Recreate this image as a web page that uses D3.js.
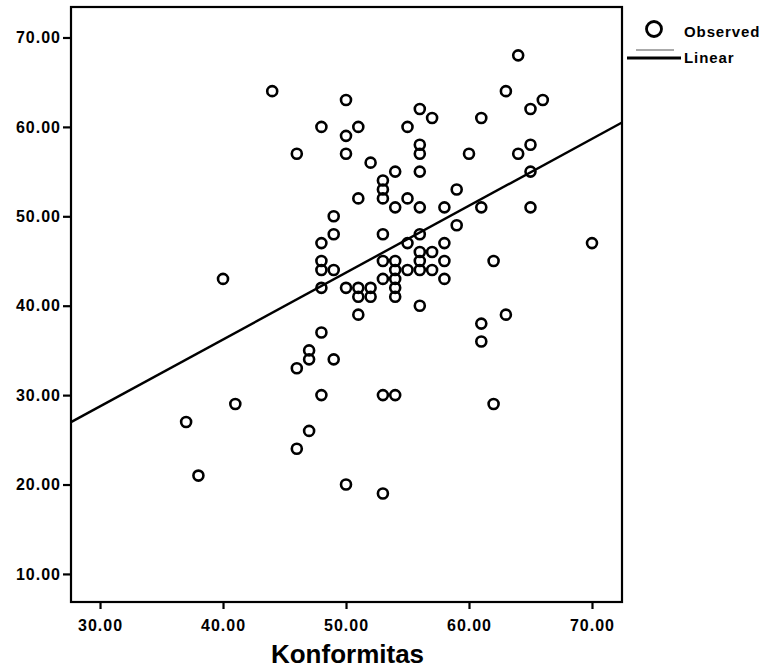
<!DOCTYPE html>
<html>
<head>
<meta charset="utf-8">
<script src="https://cdn.jsdelivr.net/npm/d3@7"></script>
<style>
  body { margin: 0; background: #fff; }
  .tick text { font-family: "Liberation Sans", Arial, sans-serif; font-weight: bold; font-size: 16px; letter-spacing: 1px; fill: #000; }
</style>
</head>
<body>
<div id="container"></div>
<script>
/* CONSTANTS AND GLOBALS */
const width = 765;
const height = 670;
const margin = { top: 7, right: 143, bottom: 68, left: 71 };

/* DATA */
// each entry: Konformitas value, then the y values observed at it
const konformitas = [37, 38, 40, 41, 44, 46, 47, 48, 49, 50, 51, 52, 53, 54, 55, 56, 57, 58, 59, 60, 61, 62, 63, 64, 65, 66, 70];
const observed = [
  [27], [21], [43], [29], [64],
  [57, 33, 24],
  [35, 34, 26],
  [60, 47, 45, 44, 42, 37, 30],
  [50, 48, 44, 34],
  [63, 59, 57, 42, 20],
  [60, 52, 42, 41, 39],
  [56, 42, 41],
  [54, 53, 52, 48, 45, 43, 30, 19],
  [55, 51, 45, 44, 43, 42, 41, 30],
  [60, 52, 47, 44],
  [62, 58, 57, 55, 51, 48, 46, 45, 44, 40],
  [61, 46, 44],
  [51, 47, 45, 43],
  [53, 49],
  [57],
  [61, 51, 38, 36],
  [45, 29],
  [64, 39],
  [68, 57],
  [62, 58, 55, 51],
  [63],
  [47]
];
const xTicks = [30, 40, 50, 60, 70];
const yTicks = [10, 20, 30, 40, 50, 60, 70];
// fitted linear line, y = a + b * x
const lineIntercept = 6.3;
const lineSlope = 0.748;
const xTitle = "Konformitas";
const legendLabels = ["Observed", "Linear"];

const points = [];
konformitas.forEach((k, i) => observed[i].forEach(v => points.push({ x: k, y: v })));

const svg = d3.select("#container").append("svg")
  .attr("width", width)
  .attr("height", height);

/* SCALES */
const xScale = d3.scaleLinear()
  .domain([27.64, 72.44])
  .range([margin.left, width - margin.right]);

const yScale = d3.scaleLinear()
  .domain([6.86, 73.41])
  .range([height - margin.bottom, margin.top]);

const xAxis = d3.axisBottom(xScale)
  .tickValues(xTicks)
  .tickFormat(d3.format(".2f"))
  .tickSize(7)
  .tickPadding(11);

const yAxis = d3.axisLeft(yScale)
  .tickValues(yTicks)
  .tickFormat(d3.format(".2f"))
  .tickSize(8)
  .tickPadding(2);

/* AXES */
const gx = svg.append("g")
  .attr("transform", `translate(0, ${height - margin.bottom})`)
  .call(xAxis);
const gy = svg.append("g")
  .attr("transform", `translate(${margin.left}, 0)`)
  .call(yAxis);
[gx, gy].forEach(g => {
  g.select(".domain").remove();
  g.selectAll(".tick line").attr("stroke", "#000").attr("stroke-width", 2.2);
});

// plot frame
svg.append("rect")
  .attr("x", margin.left)
  .attr("y", margin.top)
  .attr("width", width - margin.left - margin.right)
  .attr("height", height - margin.top - margin.bottom)
  .attr("fill", "none")
  .attr("stroke", "#000")
  .attr("stroke-width", 2.2);

/* MARKS */
const xd = xScale.domain();
svg.append("line")
  .attr("x1", xScale(xd[0]))
  .attr("y1", yScale(lineIntercept + lineSlope * xd[0]))
  .attr("x2", xScale(xd[1]))
  .attr("y2", yScale(lineIntercept + lineSlope * xd[1]))
  .attr("stroke", "#000")
  .attr("stroke-width", 2.4);

svg.selectAll("circle.pt")
  .data(points)
  .join("circle")
  .attr("class", "pt")
  .attr("cx", d => xScale(d.x))
  .attr("cy", d => yScale(d.y))
  .attr("r", 5)
  .attr("fill", "none")
  .attr("stroke", "#000")
  .attr("stroke-width", 2.6);

/* TITLE */
svg.append("text")
  .attr("x", (margin.left + width - margin.right) / 2 + 1)
  .attr("y", 663)
  .attr("text-anchor", "middle")
  .style("font-family", "'Liberation Sans', Arial, sans-serif")
  .style("font-weight", "bold")
  .style("font-size", "26px")
  .text(xTitle);

/* LEGEND */
const legend = svg.append("g");
legend.append("circle")
  .attr("cx", 654).attr("cy", 29).attr("r", 7.5)
  .attr("fill", "none").attr("stroke", "#000").attr("stroke-width", 2.8);
legend.append("line")
  .attr("x1", 636).attr("x2", 674).attr("y1", 50).attr("y2", 50)
  .attr("stroke", "#555").attr("stroke-width", 1);
legend.append("line")
  .attr("x1", 627).attr("x2", 681).attr("y1", 58).attr("y2", 58)
  .attr("stroke", "#000").attr("stroke-width", 3);
legend.selectAll("text")
  .data(legendLabels)
  .join("text")
  .attr("x", 684)
  .attr("y", (d, i) => 37 + i * 26)
  .style("font-family", "'Liberation Sans', Arial, sans-serif")
  .style("font-weight", "bold")
  .style("font-size", "15px")
  .style("letter-spacing", "0.9px")
  .text(d => d);
</script>
</body>
</html>
